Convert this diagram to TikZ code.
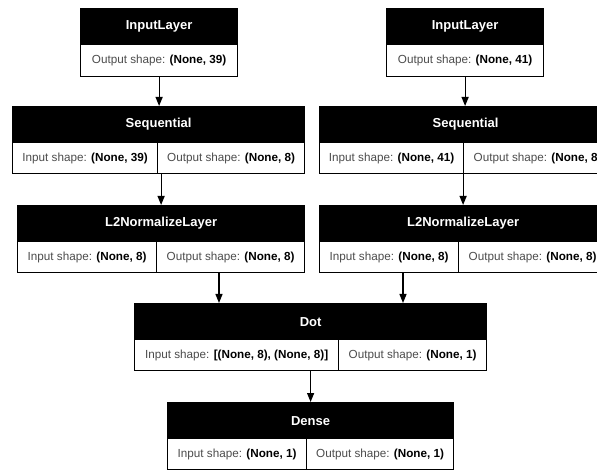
\documentclass[tikz,border=0pt]{standalone}
\usepackage{fontspec}
\setmainfont{Liberation Sans}
\usetikzlibrary{arrows.meta}

\definecolor{shapegray}{gray}{0.3}
\newcommand{\inshp}[1]{\textcolor{shapegray}{Input shape:} \textbf{#1}}
\newcommand{\outshp}[1]{\textcolor{shapegray}{Output shape:} \textbf{#1}}

\tikzset{
  head/.style={draw=black, line width=1.2pt, fill=black, text=white, anchor=north west,
    inner sep=0pt, minimum height=36pt, font=\fontsize{13}{15}\selectfont\bfseries},
  cell/.style={draw=black, line width=1.2pt, fill=white, anchor=north west,
    inner sep=0pt, minimum height=31pt, font=\fontsize{11.7}{14}\selectfont},
  arr/.style={-{Triangle[length=9pt,width=7pt]}, line width=1.2pt},
}

\begin{document}
\begin{tikzpicture}[x=1pt, y=-1pt]

    \useasboundingbox (0,0) rectangle (597,470);
    \clip (0,0) rectangle (597,470);

    % left branch
    \node[head, minimum width=157pt] (in1) at (80,8) {InputLayer};
    \node[cell, minimum width=157pt, minimum height=32pt] (in1out) at (80,44) {\outshp{(None, 39)}};

    \node[head, minimum width=292pt] (seq1) at (12,106) {Sequential};
    \node[cell, minimum width=145pt] (seq1in) at (12,142) {\inshp{(None, 39)}};
    \node[cell, minimum width=147pt] (seq1out) at (157,142) {\outshp{(None, 8)}};

    \node[head, minimum width=287pt] (l2a) at (17,205) {L2NormalizeLayer};
    \node[cell, minimum width=139pt] (l2ain) at (17,241) {\inshp{(None, 8)}};
    \node[cell, minimum width=148pt] (l2aout) at (156,241) {\outshp{(None, 8)}};

    % right branch
    \node[head, minimum width=157pt] (in2) at (386,8) {InputLayer};
    \node[cell, minimum width=157pt, minimum height=32pt] (in2out) at (386,44) {\outshp{(None, 41)}};

    \node[head, minimum width=292pt] (seq2) at (319,106) {Sequential};
    \node[cell, minimum width=144pt] (seq2in) at (319,142) {\inshp{(None, 41)}};
    \node[cell, minimum width=148pt] (seq2out) at (463,142) {\outshp{(None, 8)}};

    \node[head, minimum width=287pt] (l2b) at (319,205) {L2NormalizeLayer};
    \node[cell, minimum width=139pt] (l2bin) at (319,241) {\inshp{(None, 8)}};
    \node[cell, minimum width=148pt] (l2bout) at (458,241) {\outshp{(None, 8)}};

    % merge
    \node[head, minimum width=352pt] (dot) at (134,303) {Dot};
    \node[cell, minimum width=204pt] (dotin) at (134,339) {\inshp{[(None, 8), (None, 8)]}};
    \node[cell, minimum width=148pt] (dotout) at (338,339) {\outshp{(None, 1)}};

    \node[head, minimum width=286pt] (dense) at (167,402) {Dense};
    \node[cell, minimum width=139pt] (densein) at (167,438) {\inshp{(None, 1)}};
    \node[cell, minimum width=147pt] (denseout) at (306,438) {\outshp{(None, 1)}};

    \coordinate (a1) at (219,0);
    \coordinate (a2) at (403,0);

    \draw[arr] (in1out.south) -- (in1out.south |- seq1.north);
    \draw[arr] (l2a.north |- seq1in.south) -- (l2a.north);
    \draw[arr] (in2out.south) -- (in2out.south |- seq2.north);
    \draw[arr] (l2b.north |- seq2in.south) -- (l2b.north);
    \draw[arr] (a1 |- l2aout.south) -- (a1 |- dot.north);
    \draw[arr] (a2 |- l2bin.south) -- (a2 |- dot.north);
    \draw[arr] (dense.north |- dotin.south) -- (dense.north);

\end{tikzpicture}
\end{document}
